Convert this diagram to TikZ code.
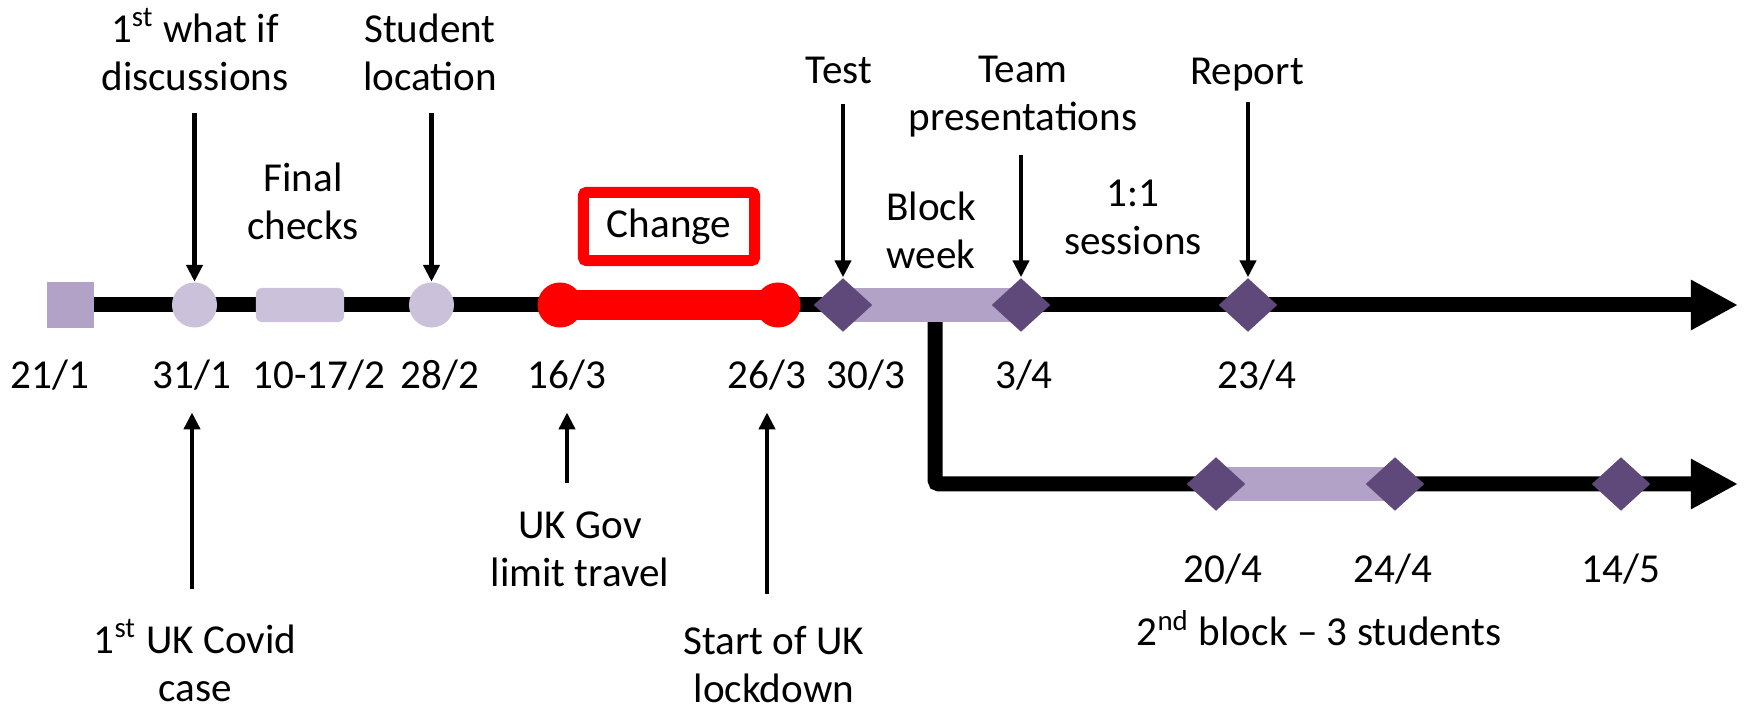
\documentclass[tikz,border=0pt]{standalone}
\usepackage{fontspec}
\setmainfont{Carlito}
\usetikzlibrary{arrows.meta,shapes.geometric}
\pgfdeclarelayer{back}
\pgfsetlayers{back,main}
\definecolor{plum}{HTML}{5F497A}
\definecolor{lilac}{HTML}{B3A2C7}
\definecolor{pale}{HTML}{CCC1DA}
\tikzset{
	txt/.style={align=center, inner sep=0pt, anchor=base, font=\fontsize{11.7pt}{13.9pt}\selectfont},
	track/.style={line width=0.15cm, -{Triangle[length=0.47cm,width=0.47cm]}},
	pointer/.style={line width=0.045cm, -{Triangle[length=0.17cm,width=0.16cm]}},
	blob/.style={circle, fill=#1, minimum size=0.45cm, inner sep=0pt},
	gem/.style={diamond, fill=plum, minimum width=0.59cm, minimum height=0.54cm, inner sep=0pt},
}

\begin{document}
\begin{tikzpicture}[x=0.01cm, y=-0.01cm]
	\useasboundingbox (0,0) rectangle (1748,710);
	\coordinate (end1) at (1738,305);
	\coordinate (fork) at (935,305);
	\coordinate (end2) at (1738,484);

	\node[fill=lilac, minimum width=0.47cm, minimum height=0.46cm, inner sep=0pt] (sq) at (70.5,305) {};
	\node[blob=pale] (c31) at (194.5,305) {};
	\node[fill=pale, rounded corners=0.06cm, minimum width=0.88cm, minimum height=0.34cm, inner sep=0pt] (fc) at (300,305) {};
	\node[blob=pale] (c28) at (431.5,305) {};
	\node[blob=red] (r16) at (560,305) {};
	\node[blob=red] (r26) at (778,305) {};
	\node[gem] (d30) at (843,305) {};
	\node[gem] (d3) at (1021,305) {};
	\node[gem] (d23) at (1248,305) {};
	\node[gem] (d20) at (1216,484) {};
	\node[gem] (d24) at (1395,484) {};
	\node[gem] (d14) at (1621,484) {};

	\begin{pgfonlayer}{back}
		\draw[track] (sq.center) -- (end1);
		\draw[track, rounded corners=0.04cm] (fork) |- (end2);
		\draw[red, line width=0.29cm] (r16.center) -- (r26.center);
		\draw[lilac, line width=0.34cm] (d30.center) -- (d3.center);
		\draw[lilac, line width=0.34cm] (d20.center) -- (d24.center);
	\end{pgfonlayer}

	\node[txt] (t21) at (50,389) {21/1};
	\node[txt] (t31) at (192,389) {31/1};
	\node[txt] (t10) at (319,389) {10-17/2};
	\node[txt] (t28) at (440,389) {28/2};
	\node[txt] (t16) at (567,389) {16/3};
	\node[txt] (t26) at (767,389) {26/3};
	\node[txt] (t30) at (866,389) {30/3};
	\node[txt] (t3) at (1024,389) {3/4};
	\node[txt] (t23) at (1257,389) {23/4};
	\node[txt] (t20) at (1223,583) {20/4};
	\node[txt] (t24) at (1393,583) {24/4};
	\node[txt] (t14) at (1621,583) {14/5};

	\node[txt] (whatif) at (195,91) {1\textsuperscript{st} what if\\discussions};
	\node[txt] (student) at (430,91) {Student\\location};
	\node[txt] (final) at (303,240) {Final\\checks};
	\node[draw=red, line width=0.11cm, rounded corners=0.03cm, minimum width=1.71cm, minimum height=0.68cm,
		font=\fontsize{11.7pt}{13.9pt}\selectfont] (change) at (669,226.5) {Change};
	\node[txt] (test) at (839,84) {Test};
	\node[txt] (team) at (1023,131) {Team\\presentations};
	\node[txt] (report) at (1247,85) {Report};
	\node[txt] (block) at (931,269) {Block\\week};
	\node[txt] (sessions) at (1133,255) {1:1\\sessions};
	\node[txt] (covid) at (195,702) {1\textsuperscript{st} UK Covid\\case};
	\node[txt] (ukgov) at (580,587) {UK Gov\\limit travel};
	\node[txt] (lockdown) at (774,703) {Start of UK\\lockdown};
	\node[txt] (second) at (1319,646) {2\textsuperscript{nd} block -- 3 students};

	\draw[pointer, shorten <=0.21cm] (c31 |- whatif.south) -- (c31.north);
	\draw[pointer, shorten <=0.21cm] (c28 |- student.south) -- (c28.north);
	\draw[pointer, shorten <=0.19cm] (d30 |- test.south) -- (d30.north);
	\draw[pointer, shorten <=0.17cm] (d3 |- team.south) -- (d3.north);
	\draw[pointer, shorten <=0.10cm] (d23 |- report.south) -- (d23.north);
	\draw[pointer, shorten <=0.30cm, shorten >=0.21cm] (t31 |- covid.north) -- (t31.south);
	\draw[pointer, shorten <=0.28cm, shorten >=0.21cm] (t16 |- ukgov.north) -- (t16.south);
	\draw[pointer, shorten <=0.31cm, shorten >=0.21cm] (t26 |- lockdown.north) -- (t26.south);
\end{tikzpicture}
\end{document}
